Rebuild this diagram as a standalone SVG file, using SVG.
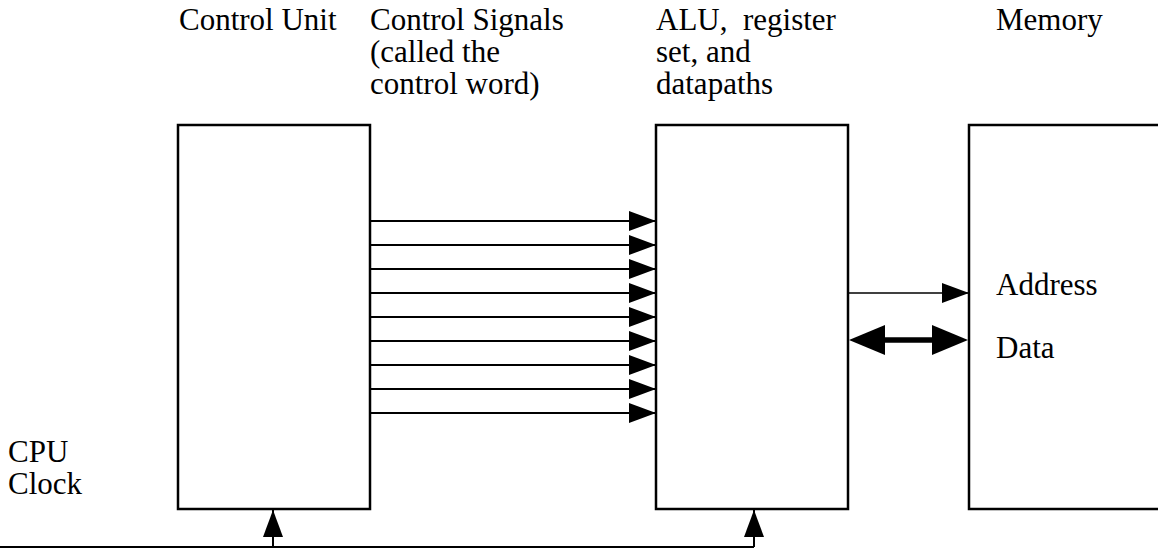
<svg xmlns="http://www.w3.org/2000/svg" width="1158" height="558" viewBox="0 0 1158 558">
<style>
  .lbl { font-family: "Liberation Serif", "Times New Roman", serif; font-size: 31px; fill: #000; white-space: pre; }
  .box { fill: #fff; stroke: #000; stroke-width: 2.5; }
  .wire { stroke: #000; stroke-width: 2; fill: none; }
  .thin { stroke-width: 1.5; }
  .thick { stroke-width: 5.5; }
  .head { fill: #000; stroke: none; }
</style>
<defs>
  <marker id="arr" markerUnits="userSpaceOnUse" markerWidth="28" markerHeight="22" refX="27" refY="11" orient="auto">
    <path d="M0,1 L27,11 L0,21 z" fill="#000"/>
  </marker>
</defs>
<rect width="1158" height="558" fill="#fff"/>

<g id="labels">
  <text class="lbl" x="179" y="30">Control Unit</text>
  <text class="lbl" x="370" y="30">Control Signals</text>
  <text class="lbl" x="370" y="62">(called the</text>
  <text class="lbl" x="370" y="94">control word)</text>
  <text class="lbl" x="656" y="30">ALU,  register</text>
  <text class="lbl" x="656" y="62">set, and</text>
  <text class="lbl" x="656" y="94">datapaths</text>
  <text class="lbl" x="996" y="30">Memory</text>
  <text class="lbl" x="8" y="462">CPU</text>
  <text class="lbl" x="8" y="494">Clock</text>
</g>

<g id="control-unit">
  <rect class="box" x="178" y="125" width="192" height="384"/>
</g>
<g id="alu">
  <rect class="box" x="656" y="125" width="192" height="384"/>
</g>
<g id="memory">
  <rect class="box" x="969" y="125" width="200" height="384"/>
  <text class="lbl" x="996" y="295">Address</text>
  <text class="lbl" x="996" y="358">Data</text>
</g>

<g id="connectors">
  <line class="wire" x1="370" y1="221" x2="656" y2="221" marker-end="url(#arr)"/>
  <line class="wire" x1="370" y1="245" x2="656" y2="245" marker-end="url(#arr)"/>
  <line class="wire" x1="370" y1="269" x2="656" y2="269" marker-end="url(#arr)"/>
  <line class="wire" x1="370" y1="293" x2="656" y2="293" marker-end="url(#arr)"/>
  <line class="wire" x1="370" y1="317" x2="656" y2="317" marker-end="url(#arr)"/>
  <line class="wire" x1="370" y1="341" x2="656" y2="341" marker-end="url(#arr)"/>
  <line class="wire" x1="370" y1="365" x2="656" y2="365" marker-end="url(#arr)"/>
  <line class="wire" x1="370" y1="389" x2="656" y2="389" marker-end="url(#arr)"/>
  <line class="wire" x1="370" y1="413" x2="656" y2="413" marker-end="url(#arr)"/>
  <line class="wire thin" x1="848" y1="293" x2="969" y2="293" marker-end="url(#arr)"/>
  <g id="data-bus">
    <line class="wire thick" x1="880" y1="340" x2="936" y2="340"/>
    <polygon class="head" points="849,340 885,325 885,355"/>
    <polygon class="head" points="968,340 932,325 932,355"/>
  </g>
  <line class="wire" x1="0" y1="547" x2="754" y2="547"/>
  <line class="wire" x1="273" y1="547" x2="273" y2="510" marker-end="url(#arr)"/>
  <line class="wire" x1="754" y1="547" x2="754" y2="510" marker-end="url(#arr)"/>
</g>
</svg>
